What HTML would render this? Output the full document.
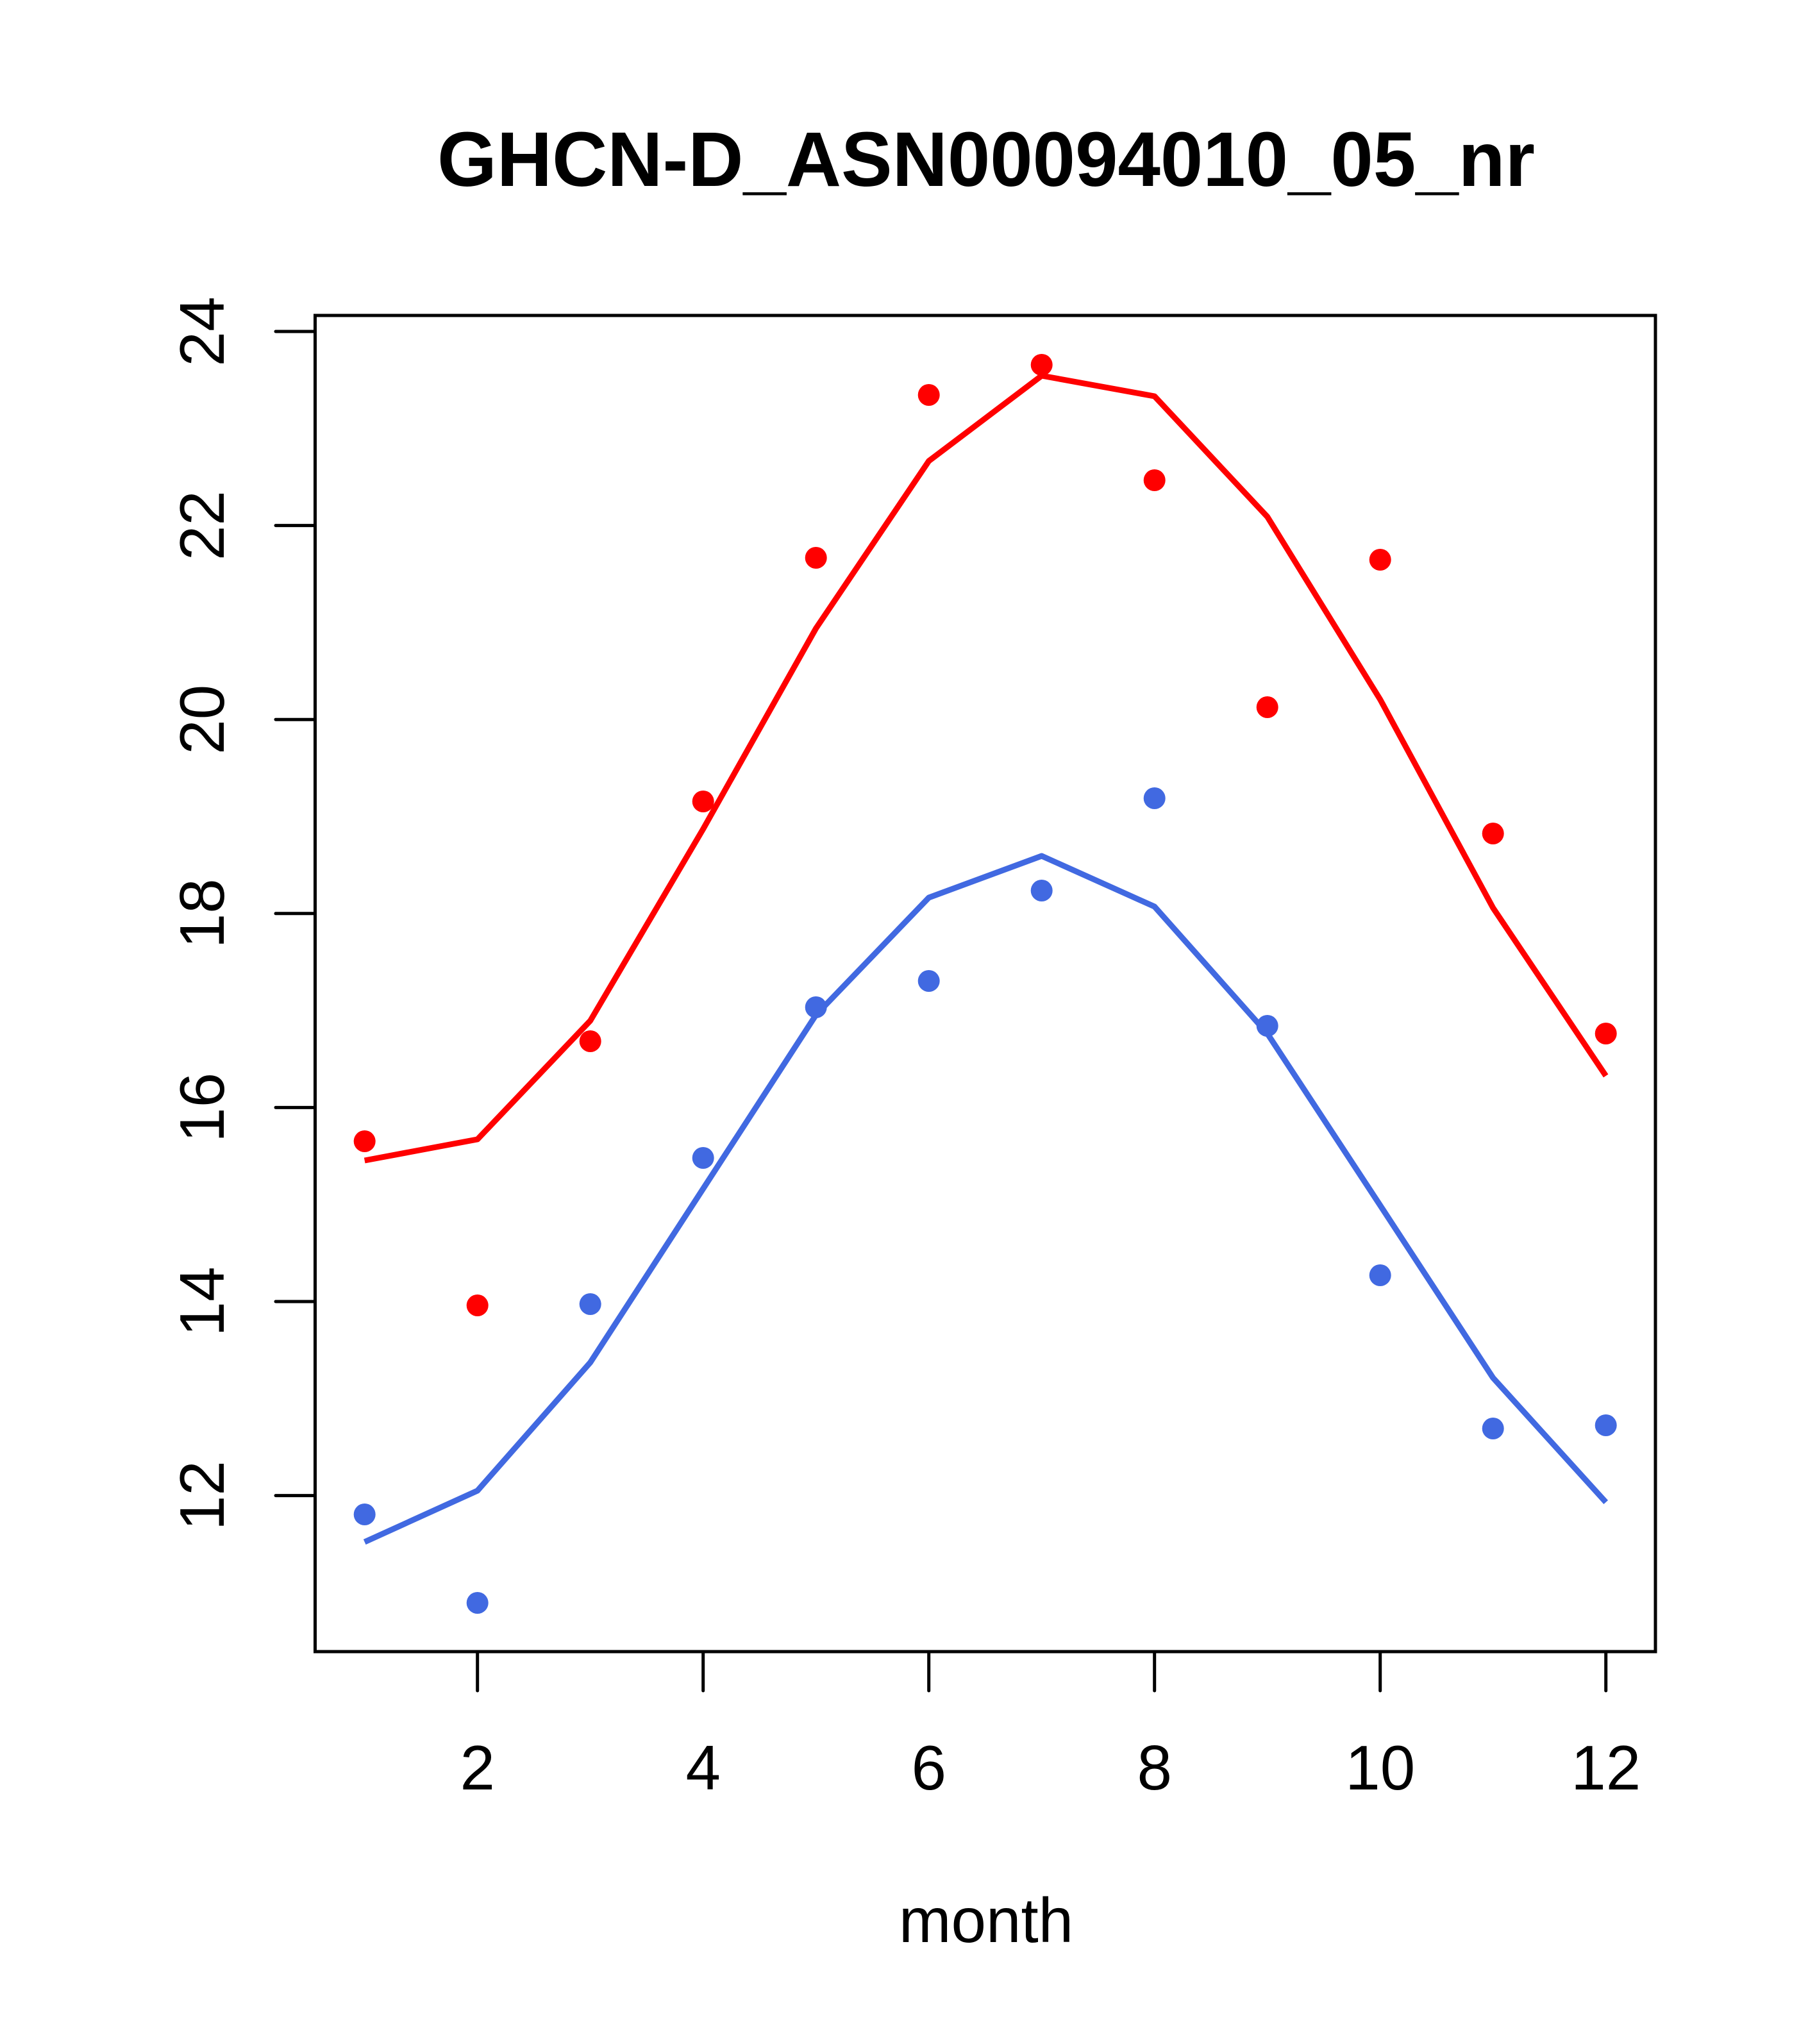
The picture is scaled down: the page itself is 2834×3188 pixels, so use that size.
<!DOCTYPE html>
<html><head><meta charset="utf-8"><style>html,body{margin:0;padding:0;background:#fff}svg{display:block}</style></head>
<body>
<svg width="2834" height="3188" viewBox="0 0 2834 3188" xmlns="http://www.w3.org/2000/svg" font-family="Liberation Sans, sans-serif">
<rect width="2834" height="3188" fill="#fff"/>
<text x="1538" y="290" font-size="121" font-weight="bold" text-anchor="middle" textLength="1712" lengthAdjust="spacingAndGlyphs">GHCN-D_ASN00094010_05_nr</text>
<rect x="491.5" y="492" width="2090.5" height="2084" fill="none" stroke="#000" stroke-width="5"/>
<g stroke="#000" stroke-width="5" stroke-linecap="round">
<line x1="744.7" y1="2576" x2="744.7" y2="2637"/>
<line x1="1096.7" y1="2576" x2="1096.7" y2="2637"/>
<line x1="1448.7" y1="2576" x2="1448.7" y2="2637"/>
<line x1="1800.7" y1="2576" x2="1800.7" y2="2637"/>
<line x1="2152.7" y1="2576" x2="2152.7" y2="2637"/>
<line x1="2504.7" y1="2576" x2="2504.7" y2="2637"/>
<line x1="430" y1="517" x2="491.5" y2="517"/>
<line x1="430" y1="819.6" x2="491.5" y2="819.6"/>
<line x1="430" y1="1122.2" x2="491.5" y2="1122.2"/>
<line x1="430" y1="1424.8" x2="491.5" y2="1424.8"/>
<line x1="430" y1="1727.4" x2="491.5" y2="1727.4"/>
<line x1="430" y1="2030" x2="491.5" y2="2030"/>
<line x1="430" y1="2332.6" x2="491.5" y2="2332.6"/>
</g>
<g font-size="98" text-anchor="middle">
<text x="744.7" y="2791">2</text><text x="1096.7" y="2791">4</text><text x="1448.7" y="2791">6</text>
<text x="1800.7" y="2791">8</text><text x="2152.7" y="2791">10</text><text x="2504.7" y="2791">12</text>
<text transform="translate(349,517) rotate(-90)">24</text>
<text transform="translate(349,819.6) rotate(-90)">22</text>
<text transform="translate(349,1122.2) rotate(-90)">20</text>
<text transform="translate(349,1424.8) rotate(-90)">18</text>
<text transform="translate(349,1727.4) rotate(-90)">16</text>
<text transform="translate(349,2030) rotate(-90)">14</text>
<text transform="translate(349,2332.6) rotate(-90)">12</text>
<text x="1538" y="3029">month</text>
</g>
<polyline fill="none" stroke="#ff0000" stroke-width="9" stroke-linejoin="round" points="568.7,1810 744.7,1777 920.7,1592 1096.7,1293 1272.7,980 1448.7,719 1624.7,586 1800.7,618 1976.7,806 2152.7,1091 2328.7,1416 2504.7,1678"/>
<polyline fill="none" stroke="#4169e1" stroke-width="9" stroke-linejoin="round" points="568.7,2405 744.7,2325 920.7,2125 1096.7,1854 1272.7,1583 1448.7,1400 1624.7,1335 1800.7,1414 1976.7,1612 2152.7,1880 2328.7,2149 2504.7,2343"/>
<g fill="#ff0000">
<circle cx="568.7" cy="1780" r="17"/><circle cx="744.7" cy="2036" r="17"/><circle cx="920.7" cy="1624" r="17"/>
<circle cx="1096.7" cy="1250" r="17"/><circle cx="1272.7" cy="870" r="17"/><circle cx="1448.7" cy="616" r="17"/>
<circle cx="1624.7" cy="569" r="17"/><circle cx="1800.7" cy="749" r="17"/><circle cx="1976.7" cy="1103" r="17"/>
<circle cx="2152.7" cy="873" r="17"/><circle cx="2328.7" cy="1300" r="17"/><circle cx="2504.7" cy="1612" r="17"/>
</g>
<g fill="#4169e1">
<circle cx="568.7" cy="2362" r="17"/><circle cx="744.7" cy="2500" r="17"/><circle cx="920.7" cy="2034" r="17"/>
<circle cx="1096.7" cy="1806" r="17"/><circle cx="1272.7" cy="1571" r="17"/><circle cx="1448.7" cy="1530" r="17"/>
<circle cx="1624.7" cy="1389" r="17"/><circle cx="1800.7" cy="1245" r="17"/><circle cx="1976.7" cy="1600" r="17"/>
<circle cx="2152.7" cy="1989" r="17"/><circle cx="2328.7" cy="2228" r="17"/><circle cx="2504.7" cy="2223" r="17"/>
</g>
</svg>
</body></html>
